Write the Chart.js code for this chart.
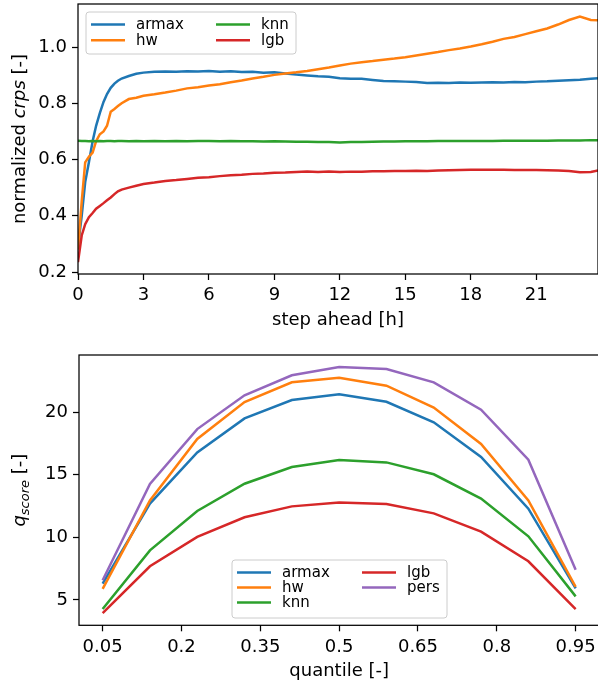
<!DOCTYPE html>
<html>
<head>
<meta charset="utf-8">
<script src="https://cdn.jsdelivr.net/npm/chart.js@4.4.1/dist/chart.umd.min.js"></script>
<style>
  html, body { margin: 0; padding: 0; background: #fff; overflow: hidden; }
  #wrap { position: relative; width: 598px; height: 688px; overflow: hidden; }
  canvas { position: absolute; left: 0; }
</style>
</head>
<body>
<div id="wrap">
  <canvas id="crpsChart" style="top:0"></canvas>
  <canvas id="qscoreChart" style="top:340px"></canvas>
</div>
<script>
// top panel: normalized crps per step ahead (hours)
const stepAhead = [
  0, 0.17, 0.33, 0.5, 0.67, 0.83, 1, 1.17, 1.33, 1.5, 1.67, 1.83, 2,
  2.33, 2.67, 3,
  3.5, 4, 4.5, 5, 5.5, 6, 6.5, 7, 7.5, 8,
  8.5, 9, 9.5, 10, 10.5, 11, 11.5, 12, 12.5, 13,
  13.5, 14, 14.5, 15, 15.5, 16, 16.5, 17, 17.5, 18,
  18.5, 19, 19.5, 20, 20.5, 21, 21.5, 22, 22.5, 23,
  23.5, 23.83
];
const armaxCrps = [
  0.29, 0.40, 0.52, 0.59, 0.665, 0.72, 0.765, 0.805, 0.833, 0.855, 0.87, 0.88, 0.888,
  0.897, 0.905, 0.909,
  0.912, 0.913, 0.912, 0.914, 0.913, 0.915, 0.912, 0.914, 0.911, 0.912,
  0.909, 0.910, 0.906, 0.902, 0.899, 0.896, 0.894, 0.889, 0.887, 0.887,
  0.883, 0.879, 0.878, 0.877, 0.876, 0.872, 0.873, 0.872, 0.874, 0.873,
  0.874, 0.875, 0.874, 0.876, 0.875, 0.877, 0.878, 0.880, 0.882, 0.884,
  0.887, 0.889
];
const hwCrps = [
  0.28, 0.45, 0.59, 0.61, 0.625, 0.665, 0.69, 0.70, 0.72, 0.77, 0.78, 0.79, 0.80,
  0.815, 0.82, 0.827,
  0.832, 0.838, 0.845, 0.853, 0.857, 0.863, 0.868, 0.875, 0.881, 0.888,
  0.894, 0.901, 0.906, 0.910, 0.915, 0.921, 0.927, 0.934, 0.941, 0.946,
  0.950, 0.955, 0.959, 0.964, 0.970, 0.976, 0.982, 0.989, 0.995, 1.002,
  1.010, 1.019, 1.029, 1.036, 1.046, 1.056, 1.066, 1.080, 1.096, 1.108,
  1.096, 1.095
];
const knnCrps = [
  0.667, 0.666, 0.666, 0.665, 0.666, 0.665, 0.666, 0.665, 0.666, 0.666, 0.665, 0.666, 0.666,
  0.665, 0.666, 0.665,
  0.666, 0.665, 0.666, 0.665, 0.666, 0.666, 0.665, 0.666, 0.665, 0.665,
  0.664, 0.665, 0.664, 0.663, 0.663, 0.662, 0.662, 0.661, 0.662, 0.662,
  0.663, 0.664, 0.664, 0.665, 0.665, 0.665, 0.666, 0.666, 0.666, 0.666,
  0.666, 0.666, 0.667, 0.667, 0.667, 0.667, 0.667, 0.668, 0.668, 0.668,
  0.669, 0.669
];
const lgbCrps = [
  0.235, 0.33, 0.37, 0.395, 0.41, 0.425, 0.435, 0.445, 0.455, 0.465, 0.477, 0.487, 0.493,
  0.50, 0.507, 0.513,
  0.518, 0.524, 0.527, 0.531, 0.535, 0.537, 0.541, 0.544, 0.546, 0.549,
  0.550, 0.553, 0.554, 0.556, 0.557, 0.556, 0.557, 0.556, 0.557, 0.557,
  0.558, 0.558, 0.559, 0.559, 0.560, 0.559, 0.561, 0.562, 0.563, 0.564,
  0.564, 0.564, 0.564, 0.563, 0.563, 0.563, 0.562, 0.561, 0.559, 0.555,
  0.556, 0.561
];
const stepTicks = [0, 3, 6, 9, 12, 15, 18, 21];
const crpsTicks = [0.2, 0.4, 0.6, 0.8, 1.0];

// bottom panel: quantile score per quantile
const quantiles = [0.05, 0.14, 0.23, 0.32, 0.41, 0.5, 0.59, 0.68, 0.77, 0.86, 0.95];
const armaxQ = [6.3, 12.69, 16.78, 19.49, 20.96, 21.41, 20.82, 19.18, 16.41, 12.29, 5.93];
const hwQ    = [5.88, 12.95, 17.85, 20.8, 22.37, 22.74, 22.1, 20.35, 17.45, 12.95, 6.04];
const knnQ   = [4.28, 8.96, 12.1, 14.28, 15.61, 16.17, 15.98, 15.03, 13.09, 10.08, 5.29];
const lgbQ   = [3.96, 7.69, 10.03, 11.6, 12.47, 12.77, 12.66, 11.91, 10.45, 8.09, 4.28];
const persQ  = [6.57, 14.26, 18.64, 21.33, 22.93, 23.59, 23.43, 22.37, 20.19, 16.2, 7.42];
const quantileTicks = [0.05, 0.2, 0.35, 0.5, 0.65, 0.8, 0.95];
const qscoreTicks = [5, 10, 15, 20];

const colors = { armax: '#1f77b4', hw: '#ff7f0e', knn: '#2ca02c', lgb: '#d62728', pers: '#9467bd' };
const FONT = "'DejaVu Sans', sans-serif";

const makeSets = (xs, series) => series.map(([name, ys], i) => ({
    label: name,
    data: xs.map((x, j) => ({ x, y: ys[j] })),
    borderColor: colors[name],
    borderWidth: 2.5,
    pointRadius: 0,
    tension: 0,
    fill: false,
    order: -i
}));

// draws frame, axis titles (with italic / subscript parts) and the legend box
const decorPlugin = {
    id: 'decor',
    afterDraw(chart, args, opts) {
        const { ctx, chartArea: a } = chart;
        ctx.save();
        ctx.strokeStyle = '#000';
        ctx.lineWidth = 1.25;
        ctx.strokeRect(a.left, a.top, a.right - a.left, a.bottom - a.top);

        // x title
        ctx.fillStyle = '#000';
        ctx.font = `18px ${FONT}`;
        ctx.textAlign = 'center';
        ctx.textBaseline = 'middle';
        ctx.fillText(opts.xTitle, (a.left + a.right) / 2, a.bottom + 46);

        // y title, rotated, built from parts
        ctx.save();
        ctx.translate(25, (a.top + a.bottom) / 2);
        ctx.rotate(-Math.PI / 2);
        ctx.textAlign = 'left';
        ctx.textBaseline = 'alphabetic';
        const widths = opts.yTitle.map(p => { ctx.font = p.font; return ctx.measureText(p.text).width; });
        let x = -widths.reduce((s, w) => s + w, 0) / 2;
        opts.yTitle.forEach((p, i) => {
            ctx.font = p.font;
            ctx.fillText(p.text, x, p.dy || 0);
            x += widths[i];
        });
        ctx.restore();

        // legend
        const lg = opts.legend;
        ctx.beginPath();
        ctx.roundRect(lg.x, lg.y, lg.w, lg.h, 3);
        ctx.fillStyle = 'rgba(255,255,255,0.8)';
        ctx.fill();
        ctx.strokeStyle = '#cccccc';
        ctx.lineWidth = 1;
        ctx.stroke();
        ctx.font = `15px ${FONT}`;
        ctx.textAlign = 'left';
        ctx.textBaseline = 'middle';
        chart.data.datasets.forEach((ds, i) => {
            const col = Math.floor(i / lg.rows);
            const row = i % lg.rows;
            const lx = lg.x + 5 + col * lg.colW;
            const ly = lg.y + 12.5 + row * lg.rowH;
            ctx.strokeStyle = ds.borderColor;
            ctx.lineWidth = 2.5;
            ctx.beginPath();
            ctx.moveTo(lx, ly);
            ctx.lineTo(lx + 34, ly);
            ctx.stroke();
            ctx.fillStyle = '#000';
            ctx.fillText(ds.label, lx + 45, ly + 1);
        });
        ctx.restore();
    }
};

const axisCommon = (ticks, fmt) => ({
    type: 'linear',
    afterBuildTicks: s => { s.ticks = ticks.map(v => ({ value: v })); },
    grid: { drawOnChartArea: false, drawTicks: true, tickLength: 6, tickColor: '#000', tickWidth: 1.25 },
    border: { display: false },
    ticks: { color: '#000', font: { family: FONT, size: 18 }, padding: 5, maxRotation: 0, autoSkip: false, callback: fmt }
});

// fixed axis sizes, and no extra room for the end tick labels
const fixSize = (prop, size) => s => {
    s[prop] = size;
    s.paddingTop = 0; s.paddingBottom = 0; s.paddingLeft = 0; s.paddingRight = 0;
};

const buildChart = (id, w, h, datasets, cfg) => {
    const canvas = document.getElementById(id);
    canvas.width = w;
    canvas.height = h;
    canvas.style.width = w + 'px';
    canvas.style.height = h + 'px';
    return new Chart(canvas, {
        type: 'line',
        data: { datasets },
        options: {
            responsive: false,
            animation: false,
            devicePixelRatio: 1,
            layout: { padding: cfg.padding },
            plugins: { legend: { display: false }, tooltip: { enabled: false }, decor: cfg.decor },
            scales: {
                x: Object.assign(axisCommon(cfg.xTicks, cfg.xFmt), {
                    min: cfg.xMin, max: cfg.xMax,
                    afterFit: fixSize('height', cfg.xHeight)
                }),
                y: Object.assign(axisCommon(cfg.yTicks, cfg.yFmt), {
                    min: cfg.yMin, max: cfg.yMax,
                    afterFit: fixSize('width', cfg.yWidth)
                })
            }
        },
        plugins: [decorPlugin]
    });
};

buildChart('crpsChart', 598, 340,
    makeSets(stepAhead, [['armax', armaxCrps], ['hw', hwCrps], ['knn', knnCrps], ['lgb', lgbCrps]]),
    {
        padding: { top: 4, right: 0, bottom: 0, left: 0 },
        xMin: 0, xMax: 23.83, yMin: 0.193, yMax: 1.153,
        xTicks: stepTicks, yTicks: crpsTicks,
        xFmt: v => String(v), yFmt: v => v.toFixed(1),
        xHeight: 66, yWidth: 78,
        decor: {
            xTitle: 'step ahead [h]',
            yTitle: [
                { text: 'normalized ', font: `18px ${FONT}` },
                { text: 'crps', font: `italic 18px ${FONT}` },
                { text: ' [-]', font: `18px ${FONT}` }
            ],
            legend: { x: 86, y: 12, w: 210, h: 42, rows: 2, rowH: 15.7, colW: 125 }
        }
    });

buildChart('qscoreChart', 600, 348,
    makeSets(quantiles, [['armax', armaxQ], ['hw', hwQ], ['knn', knnQ], ['lgb', lgbQ], ['pers', persQ]]),
    {
        padding: { top: 15, right: 0.7, bottom: 0, left: 0 },
        xMin: 0.005, xMax: 0.995, yMin: 2.98, yMax: 24.55,
        xTicks: quantileTicks, yTicks: qscoreTicks,
        xFmt: v => String(v), yFmt: v => String(v),
        xHeight: 62.7, yWidth: 79,
        decor: {
            xTitle: 'quantile [-]',
            yTitle: [
                { text: 'q', font: `italic 18px ${FONT}` },
                { text: 'score', font: `italic 13px ${FONT}`, dy: 4 },
                { text: ' [-]', font: `18px ${FONT}` }
            ],
            legend: { x: 232, y: 220, w: 215, h: 58, rows: 3, rowH: 15, colW: 125 }
        }
    });
</script>
</body>
</html>
